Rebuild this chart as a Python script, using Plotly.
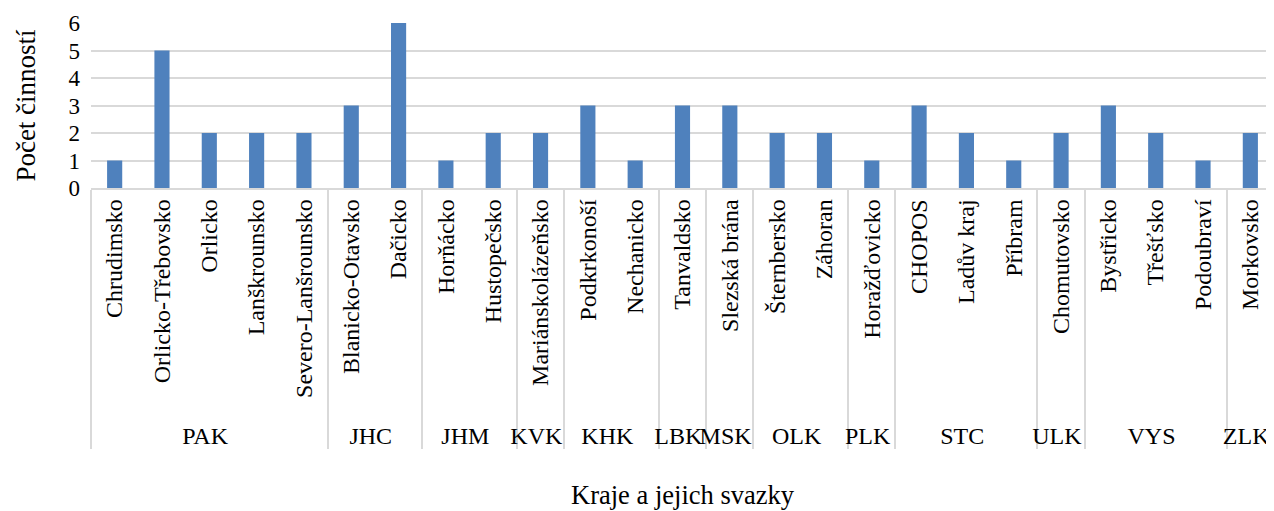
import plotly.graph_objects as go

# kraje (group level) and svazky (category level)
kraje = [
    "PAK", "PAK", "PAK", "PAK", "PAK",
    "JHC", "JHC",
    "JHM", "JHM",
    "KVK",
    "KHK", "KHK",
    "LBK",
    "MSK",
    "OLK", "OLK",
    "PLK",
    "STC", "STC", "STC",
    "ULK",
    "VYS", "VYS", "VYS",
    "ZLK",
]
svazky = [
    "Chrudimsko", "Orlicko-Třebovsko", "Orlicko", "Lanškrounsko", "Severo-Lanšrounsko",
    "Blanicko-Otavsko", "Dačicko",
    "Horňácko", "Hustopečsko",
    "Mariánskolázeňsko",
    "Podkrkonoší", "Nechanicko",
    "Tanvaldsko",
    "Slezská brána",
    "Šternbersko", "Záhoran",
    "Horažďovicko",
    "CHOPOS", "Ladův kraj", "Příbram",
    "Chomutovsko",
    "Bystřicko", "Třešťsko", "Podoubraví",
    "Morkovsko",
]
pocet_cinnosti = [1, 5, 2, 2, 2, 3, 6, 1, 2, 2, 3, 1, 3, 3, 2, 2, 1, 3, 2, 1, 2, 3, 2, 1, 2]

FONT = "Liberation Serif"
GRID = "#d9d9d9"

fig = go.Figure(
    go.Bar(
        x=[kraje, svazky],
        y=pocet_cinnosti,
        marker={"color": "#4f81bd", "line": {"width": 0}},
        showlegend=False,
    )
)

# the page body has an 8px margin, so the figure is a bit smaller than the window
fig.update_layout(
    width=1266,
    height=503,
    paper_bgcolor="white",
    plot_bgcolor="white",
    bargap=0.68,
    font={"family": FONT, "size": 23, "color": "black"},
    margin={"l": 83, "r": 0, "t": 15, "b": 323},
)
fig.update_xaxes(
    type="multicategory",
    automargin=False,
    tickangle=-90,
    showline=True,
    linecolor=GRID,
    linewidth=1.5,
    showdividers=True,
    dividercolor=GRID,
    dividerwidth=1.5,
    showgrid=False,
    ticks="",
    tickfont={"family": FONT, "size": 24},
    title={"text": "Kraje a jejich svazky", "font": {"family": FONT, "size": 26.5}, "standoff": 38},
)
fig.update_yaxes(
    automargin=False,
    range=[0, 6],
    dtick=1,
    showgrid=True,
    gridcolor=GRID,
    gridwidth=1.5,
    zeroline=False,
    showline=False,
    ticks="",
    ticklabelstandoff=10,
    tickfont={"family": FONT, "size": 23},
    title={"text": "Počet činností", "font": {"family": FONT, "size": 27}, "standoff": 25},
)

fig.write_html("out.html")
